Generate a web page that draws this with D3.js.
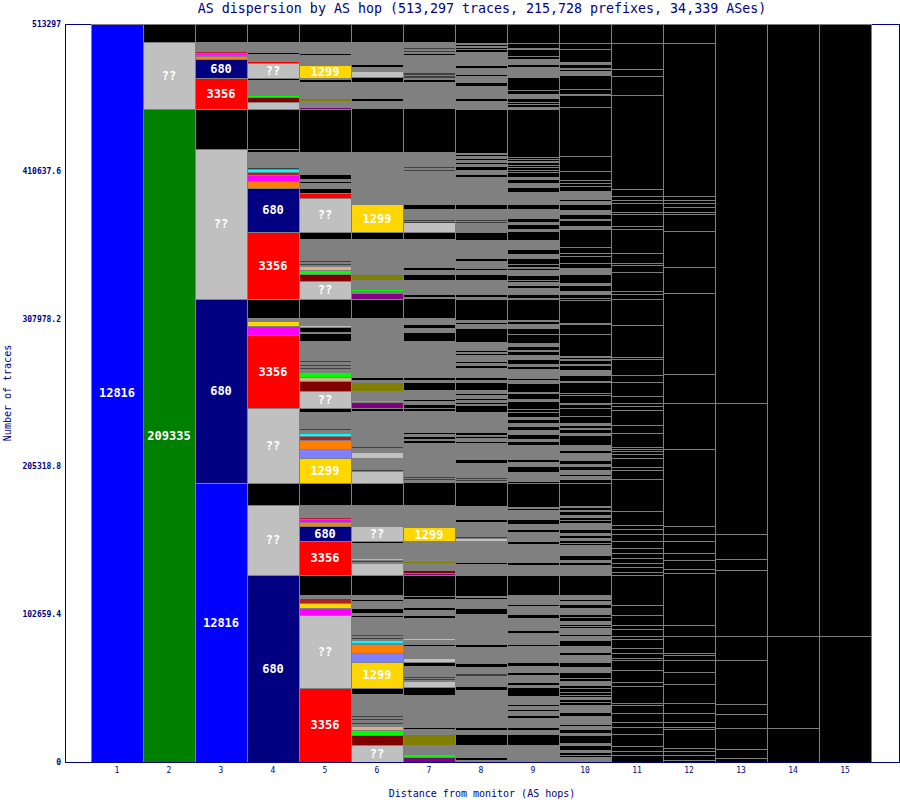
<!DOCTYPE html>
<html><head><meta charset="utf-8">
<script src="https://cdn.jsdelivr.net/npm/d3@7"></script>
<style>body{margin:0;background:#fff}</style>
</head><body>
<svg id="c" width="900" height="800"></svg>
<script>
const chartTitle = "AS dispersion by AS hop (513,297 traces, 215,728 prefixes, 34,339 ASes)";
const xTitle = "Distance from monitor (AS hops)";
const yTitle = "Number of traces";
const totalTraces = 513297;
const hops = [1,2,3,4,5,6,7,8,9,10,11,12,13,14,15];
const yTickValues = [0, 102659.4, 205318.8, 307978.2, 410637.6, 513297];
const yTickLabels = ["0","102659.4","205318.8","307978.2","410637.6","513297"];

// segments per hop, top to bottom: [traces, AS group, label]
const col1 = [[513297,"B","12816"]];
const col2 = [[12519,"K"],[46599,"L","??"],[454179,"GR","209335"]];
const col3 = [[12519,"K"],[6955,"G"],[1043,"FB"],[1391,"M"],[1043,"G"],[1391,"O"],[696,"G"],[12519,"N","680"],[21561,"R","3356"],[27820,"K"],[104325,"L","??"],[127972,"N","680"],[194045,"B","12816"]];
const col4 = [[12519,"K"],[7998,"G"],[696,"K"],[5216,"G"],[1043,"R"],[10085,"L","??"],[696,"G"],[1043,"K"],[11128,"G"],[696,"LG"],[696,"G"],[2434,"MR"],[696,"G"],[4173,"L"],[27820,"K"],[2087,"K"],[11128,"G"],[696,"D"],[696,"G"],[1391,"C"],[696,"G"],[1391,"FB"],[696,"G"],[3478,"M"],[696,"G"],[4173,"O"],[30602,"N","680"],[46599,"R","3356"],[13215,"K"],[3130,"G"],[2782,"Y"],[696,"G"],[5216,"M"],[50772,"R","3356"],[52163,"L","??"],[15301,"K"],[48685,"L","??"],[130059,"N","680"]];
const col5 = [[12519,"K"],[8346,"G"],[696,"K"],[7651,"G"],[8694,"Y","1299"],[696,"G"],[1391,"K"],[12171,"G"],[1739,"OL"],[4521,"G"],[696,"P"],
[29907,"K"],[16344,"G"],[2434,"K"],[2434,"G"],[696,"K"],[3825,"G"],[3130,"K"],[3130,"R"],[23647,"L","??"],
[4869,"K"],[15301,"G"],[696,"D"],[1391,"G"],[696,"D"],[1739,"G"],[1739,"T"],[696,"G"],[2087,"LG"],[4869,"MR"],[12519,"L","??"],
[13562,"K"],[5216,"G"],[696,"L"],[3825,"K"],[1043,"G"],[5216,"K"],[13562,"G"],[696,"D"],[2087,"G"],[696,"D"],[1391,"G"],[696,"D"],[3130,"G"],[2434,"LG"],[696,"G"],[2087,"T"],[696,"G"],[6260,"MR"],[11824,"L","??"],
[2434,"K"],[11824,"G"],[696,"D"],[2782,"G"],[1391,"C"],[696,"G"],[2087,"FB"],[696,"G"],[5912,"O"],[6260,"LV"],[17388,"Y","1299"],
[15301,"K"],[8694,"G"],[1043,"FB"],[2087,"M"],[2782,"O"],[10433,"N","680"],[23647,"R","3356"],
[13910,"K"],[2782,"G"],[2782,"FB"],[696,"G"],[2782,"Y"],[696,"G"],[4173,"M"],[51119,"L","??"],[51119,"R","3356"]];
const col6 = [[12519,"K"],[16344,"G"],[1391,"K"],[3478,"G"],[3478,"L"],[696,"G"],[2434,"K"],[11824,"G"],[1739,"K"],[5216,"G"],
[29907,"K"],[36862,"G"],[18779,"Y","1299"],
[4869,"K"],[25386,"G"],[3478,"OL"],[6955,"G"],[696,"LG"],[2087,"G"],[3130,"P"],
[13562,"K"],[41382,"G"],[1391,"K"],[2087,"G"],[5564,"OL"],[6955,"G"],[1043,"LG"],[696,"G"],[3130,"P"],
[2434,"K"],[25038,"G"],[696,"D"],[3478,"G"],[3130,"L"],[8694,"G"],[696,"D"],[696,"G"],[7303,"L"],
[15301,"K"],[15649,"G"],[9389,"L","??"],[1391,"K"],[11128,"G"],[696,"T"],[696,"LG"],[696,"D"],[1391,"G"],[7651,"L"],
[13910,"K"],[3478,"G"],[1043,"K"],[5216,"G"],[2782,"K"],[2087,"G"],[1043,"K"],[12171,"G"],[696,"R"],[1391,"G"],[1043,"D"],[1391,"G"],[1391,"C"],[1043,"G"],[5564,"O"],[6260,"LV"],[18083,"Y","1299"],
[4521,"K"],[15301,"G"],[696,"D"],[1391,"G"],[696,"D"],[1739,"G"],[696,"D"],[2434,"G"],[2087,"T"],[696,"G"],[2434,"LG"],[6955,"MR"],[11824,"L","??"]];
const col7 = [[12519,"K"],[4173,"G"],[696,"D"],[1391,"G"],[696,"D"],[1391,"G"],[1043,"K"],[12519,"G"],[696,"D"],[1391,"G"],[696,"D"],[1391,"G"],[1391,"K"],[19126,"G"],
[29907,"K"],[10433,"G"],[696,"D"],[1391,"G"],[696,"D"],[23647,"G"],[2782,"K"],[7651,"G"],[696,"D"],[1043,"G"],[696,"D"],[5912,"L"],
[4869,"K"],[20170,"G"],[1391,"K"],[3825,"G"],[3130,"K"],[10433,"G"],[1391,"K"],[1391,"G"],
[13562,"K"],[4521,"G"],[2434,"K"],[3478,"G"],[5564,"K"],[25386,"G"],[1391,"K"],[2434,"G"],[4521,"K"],[6955,"G"],[1043,"K"],[2782,"G"],[2087,"K"],[2087,"K"],[14953,"G"],[1043,"K"],[2087,"G"],[1043,"K"],[1739,"G"],[1043,"K"],[23647,"G"],[696,"D"],[696,"G"],[696,"D"],[2087,"G"],
[15301,"K"],[15997,"G"],[9042,"Y","1299"],[14953,"G"],[696,"OL"],[5216,"G"],[1391,"MR"],[1391,"P"],
[14606,"K"],[1043,"G"],[1043,"K"],[6607,"G"],[1391,"K"],[4173,"G"],[1391,"K"],[14606,"G"],[696,"L"],[3130,"G"],[1043,"K"],[8694,"G"],[2434,"L"],[2782,"K"],[7303,"G"],[696,"D"],[696,"G"],[696,"D"],[1739,"G"],[3478,"L"],[696,"G"],[4521,"K"],[22952,"G"],[696,"K"],[4521,"G"],[6607,"OL"],[6955,"G"],[1739,"LG"],[3130,"P"]];
const col8 = [[13215,"K"],[1391,"G"],[1043,"K"],[1043,"G"],[696,"K"],[1043,"G"],[1043,"K"],[10085,"G"],[1391,"K"],[4521,"G"],[1043,"K"],[4869,"G"],[2087,"K"],[8694,"G"],[1739,"K"],[5912,"G"],
[29907,"K"],[1391,"G"],[1043,"K"],[1739,"G"],[696,"K"],[2087,"G"],[696,"K"],[2087,"G"],[2087,"K"],[3478,"G"],[1043,"K"],[19822,"G"],[2782,"K"],[7651,"G"],[696,"D"],[696,"G"],[696,"D"],[6955,"G"],
[4521,"K"],[13562,"G"],[1043,"K"],[5564,"G"],[1043,"K"],[3478,"G"],[3478,"K"],[10433,"G"],[1391,"K"],[2087,"G"],
[13562,"K"],[2434,"G"],[696,"K"],[3130,"G"],[9042,"K"],[6260,"G"],[696,"K"],[1739,"G"],[696,"K"],[4521,"G"],[1043,"K"],[2087,"G"],[1391,"K"],[6955,"G"],[1391,"K"],[1739,"G"],[5216,"K"],[2434,"G"],[696,"K"],[2782,"G"],[1043,"K"],[2087,"G"],[696,"K"],[1043,"G"],[4173,"K"],[14953,"G"],[1043,"K"],[1391,"G"],[1043,"K"],[2434,"G"],[1043,"K"],[11824,"G"],[1739,"K"],[10780,"G"],[696,"D"],[696,"G"],[696,"D"],[1391,"G"],
[15997,"K"],[9737,"G"],[1043,"K"],[10433,"G"],[696,"D"],[696,"G"],[1391,"L"],[15649,"G"],[696,"K"],[8346,"G"],
[13910,"K"],[1043,"G"],[1043,"K"],[6607,"G"],[3478,"K"],[21908,"G"],[1043,"K"],[11824,"G"],[2087,"K"],[4869,"G"],[1739,"D"],[7303,"G"],[2434,"K"],[26429,"G"],[1391,"K"],[3478,"G"],[6955,"K"],[9042,"G"],[1391,"K"],[1391,"G"]];
const col9 = [[13215,"K"],[3130,"K"],[1043,"K"],[4869,"K"],[1739,"K"],[1043,"K"],[3825,"G"],[1391,"K"],[7651,"G"],[7651,"K"],[2782,"K"],[3478,"G"],[2087,"K"],[1391,"K"],[2087,"K"],[2087,"G"],
[32689,"K"],[1391,"K"],[1391,"K"],[1043,"K"],[1739,"K"],[1739,"K"],[1739,"K"],[1739,"K"],[3130,"K"],[2434,"G"],[2087,"K"],[3478,"G"],[2434,"K"],[9389,"G"],[2434,"K"],[6955,"G"],[2087,"K"],[2087,"G"],[2782,"K"],[2087,"G"],
[5912,"K"],[6955,"G"],[2434,"K"],[3478,"G"],[3478,"K"],[2087,"K"],[1391,"G"],[696,"K"],[4521,"G"],[2782,"K"],[1391,"K"],[2782,"G"],[1391,"K"],[4869,"G"],[1739,"K"],[1739,"G"],
[13562,"K"],[1739,"G"],[1043,"K"],[1043,"K"],[2434,"G"],[3478,"K"],[6260,"K"],[2782,"G"],[2434,"K"],[1043,"G"],[2434,"K"],[3478,"G"],[2434,"K"],[2087,"G"],[1391,"K"],[6955,"G"],[1043,"K"],[2434,"G"],[5564,"K"],[1391,"G"],[3478,"K"],[2087,"G"],[4869,"K"],[2087,"K"],[3478,"K"],[2434,"G"],[2087,"K"],[2434,"G"],[2434,"K"],[3478,"G"],[2434,"K"],[2087,"G"],[2434,"K"],[10433,"G"],[1043,"K"],[3478,"G"],[3478,"K"],[6955,"G"],[1043,"K"],
[16692,"K"],[1043,"G"],[1043,"K"],[6955,"G"],[2434,"K"],[4521,"G"],[1043,"K"],[6955,"G"],[1391,"K"],[13910,"G"],[1043,"K"],[7651,"G"],
[13215,"K"],[1043,"K"],[5912,"G"],[1043,"K"],[5912,"G"],[2434,"K"],[9042,"G"],[1043,"K"],[8346,"G"],[1043,"K"],[11824,"G"],[2087,"K"],[4869,"G"],[1043,"K"],[5912,"G"],[1043,"K"],[2434,"G"],[5564,"K"],[5912,"G"],[1043,"K"],[2434,"G"],[1043,"K"],[3478,"G"],[1043,"K"],[6955,"G"],[1391,"K"],[3478,"G"],[6955,"K"],[11824,"G"]];
const col10 = [[13215,"K"],[4173,"K"],[9389,"K"],[1739,"G"],[2434,"K"],[1043,"G"],[1043,"K"],[3478,"G"],[8694,"K"],[3478,"K"],[1391,"G"],[7651,"K"],
[34427,"K"],[10433,"K"],[5912,"K"],[1043,"G"],[1043,"K"],[1043,"G"],[1043,"K"],[1043,"G"],[2782,"K"],[5912,"G"],[1043,"K"],[2434,"G"],[3478,"K"],[3478,"G"],[3130,"K"],[1391,"G"],[3478,"K"],[2782,"G"],
[11476,"K"],[4173,"K"],[2434,"K"],[4521,"K"],[3478,"K"],[4869,"G"],[5912,"K"],[2087,"G"],[3478,"K"],[2434,"G"],[2087,"K"],[1391,"K"],
[16344,"K"],[1043,"G"],[6260,"K"],[15649,"K"],[1391,"G"],[696,"K"],[1391,"G"],[2087,"K"],[1391,"G"],[2434,"K"],[4521,"G"],[3478,"K"],[1391,"G"],[6955,"K"],[1043,"K"],[5912,"K"],[1391,"G"],[1739,"K"],[5912,"K"],[4869,"K"],[2087,"G"],[1043,"K"],[1391,"G"],[2434,"K"],[1739,"G"],[6260,"K"],[4521,"G"],[1043,"K"],[5912,"G"],[1739,"K"],[2087,"G"],[2087,"K"],[3478,"G"],[1043,"K"],[2434,"G"],[2087,"K"],
[16344,"K"],[1043,"G"],[1391,"K"],[1739,"G"],[1739,"K"],[2434,"G"],[1391,"K"],[2087,"K"],[4521,"G"],[2434,"K"],[2087,"G"],[1391,"K"],[2087,"G"],[1391,"K"],[1043,"K"],[7998,"G"],[2434,"K"],[2434,"G"],[1043,"K"],[7651,"G"],
[13215,"K"],[1043,"K"],[2434,"G"],[1043,"K"],[2434,"G"],[2434,"K"],[4521,"G"],[1391,"K"],[3130,"K"],[2434,"G"],[1043,"K"],[1391,"K"],[4521,"G"],[1043,"K"],[3478,"G"],[3478,"K"],[4521,"G"],[1391,"K"],[5912,"G"],[2434,"K"],[4521,"G"],[3478,"K"],[2087,"K"],[3478,"G"],[1391,"K"],[2434,"K"],[2087,"K"],[1391,"K"],[2087,"G"],[1391,"K"],[2087,"K"],[5564,"G"],[2434,"K"],[5912,"G"],[1043,"K"],[2434,"G"],[2434,"K"],[1739,"G"],[5216,"K"],[2087,"G"],[2434,"K"],[2434,"G"],[1391,"K"],[1391,"K"],[3130,"G"]];
// later hops: only ended traces (black), one entry per group
const col11 = [13215,18083,4869,13215,65379,4869,2782,2087,6260,1391,8346,1739,17040,6955,1391,4869,13215,2087,3130,18431,22257,1391,11128,4869,9737,4869,1739,2782,10780,5564,10085,1391,1043,2087,2782,6607,1739,6607,21908,10085,2782,3130,4869,5216,3130,3478,3478,3130,3130,2087,21213,6607,6955,3130,4869,1739,6607,3130,3478,1739,6607,8346,3130,11476,1739,5216,6260,3478,4869,8346,3478,3130,4521];
const col12 = [13215,106415,2782,2087,2782,3478,1391,11476,25734,17736,56337,20170,32342,53207,5564,4869,8346,4869,6607,2434,36167,7998,11824,1391,3478,8346,8346,13215,6607,6607,3130,1739,13215,1739,3130,3478,1043];
const col13 = [263602,91113,17736,7303,46252,16692,30255,6955,10085,14606,5912,2782];
const col14 = [426006,63640,23648];
const col15 = [426006,87288];
const columns = [col1,col2,col3,col4,col5,col6,col7,col8,col9,col10,col11,col12,col13,col14,col15];

const palette = {K:"#000000",G:"#808080",D:"#404040",L:"#c0c0c0",B:"#0000ff",GR:"#008000",N:"#000080",R:"#ff0000",
  Y:"#ffd700",M:"#ff00ff",O:"#ff8000",C:"#00ffff",FB:"#b22222",MR:"#800000",OL:"#808000",P:"#800080",T:"#d2b48c",LG:"#00ff00",LV:"#8080ff"};
const navy = "#000080", sep = "#808080";
const mono = "'DejaVu Sans Mono', monospace";

const svg = d3.select("#c").attr("shape-rendering","crispEdges");
const plotL = 65, plotR = 899, plotT = 24, plotB = 762;
const x = d3.scaleLinear().domain([0.5, 15.5]).range([91, 871]);
const y = d3.scaleLinear().domain([0, totalTraces]).range([plotB, plotT]);

// frame
svg.append("rect").attr("x",plotL).attr("y",plotT).attr("width",plotR-plotL+1).attr("height",1).attr("fill",navy);
svg.append("rect").attr("x",plotL).attr("y",plotT).attr("width",1).attr("height",plotB-plotT+1).attr("fill",navy);
svg.append("rect").attr("x",plotR).attr("y",plotT).attr("width",1).attr("height",plotB-plotT+1).attr("fill",navy);

const labels = [];
columns.forEach((segs, i) => {
  const hop = hops[i];
  const x0 = Math.round(x(hop - 0.5)), x1 = Math.round(x(hop + 0.5));
  const g = svg.append("g");
  let top = totalTraces, prev = null;
  segs.forEach((s, j) => {
    const seg = typeof s === "number" ? [s, "K"] : s;
    const [n, code, label] = seg;
    const bottom = j === segs.length - 1 ? 0 : Math.max(0, top - n);
    const yt = Math.round(y(top)), yb = Math.round(y(bottom));
    const h = Math.max(1, yb - yt);
    g.append("rect").attr("x", x0).attr("y", yt).attr("width", x1 - x0).attr("height", h).attr("fill", palette[code]);
    const solid = c => c !== "G" && c !== "D";
    if (prev && solid(code) && solid(prev)) {
      g.append("rect").attr("x", x0).attr("y", yt).attr("width", x1 - x0).attr("height", 1).attr("fill", sep);
    }
    if (label) labels.push({x: (x0 + x1) / 2, y: (yt + yb) / 2, t: label});
    prev = code; top = bottom;
  });
});
// column separators
hops.concat([16]).forEach(h => {
  svg.append("rect").attr("x", Math.round(x(h - 0.5))).attr("y", plotT).attr("width", 1).attr("height", plotB - plotT).attr("fill", sep);
});
svg.append("rect").attr("x", Math.round(x(0.5))).attr("y", plotT).attr("width", Math.round(x(15.5)) - Math.round(x(0.5)) + 1).attr("height", 1).attr("fill", sep);
svg.append("rect").attr("x",plotL).attr("y",plotB).attr("width",plotR-plotL+1).attr("height",1).attr("fill",navy);

svg.append("g").selectAll("text").data(labels).join("text")
  .attr("x", d => d.x).attr("y", d => d.y).attr("dy", "0.36em")
  .attr("text-anchor", "middle").attr("fill", "#fff")
  .attr("font-family", mono).attr("font-weight", "bold").attr("font-size", 12)
  .text(d => d.t);

// y ticks
svg.append("g").selectAll("text").data(yTickValues).join("text")
  .attr("x", 61).attr("y", d => y(d)).attr("dy", "0.33em").attr("text-anchor", "end")
  .attr("fill", navy).attr("font-family", mono).attr("font-weight", "bold").attr("font-size", 8)
  .text((d, i) => yTickLabels[i]);
// x ticks
svg.append("g").selectAll("text").data(hops).join("text")
  .attr("x", d => x(d)).attr("y", 773).attr("text-anchor", "middle")
  .attr("fill", navy).attr("font-family", mono).attr("font-size", 8)
  .text(d => d);

svg.append("text").attr("x", 482).attr("y", 13).attr("text-anchor", "middle")
  .attr("fill", navy).attr("font-family", mono).attr("font-size", 13.3).text(chartTitle);
svg.append("text").attr("x", 482).attr("y", 797).attr("text-anchor", "middle")
  .attr("fill", navy).attr("font-family", mono).attr("font-size", 10).text(xTitle);
svg.append("text").attr("transform", "translate(11,393) rotate(-90)").attr("text-anchor", "middle")
  .attr("fill", navy).attr("font-family", mono).attr("font-size", 10).text(yTitle);
</script>
</body></html>
